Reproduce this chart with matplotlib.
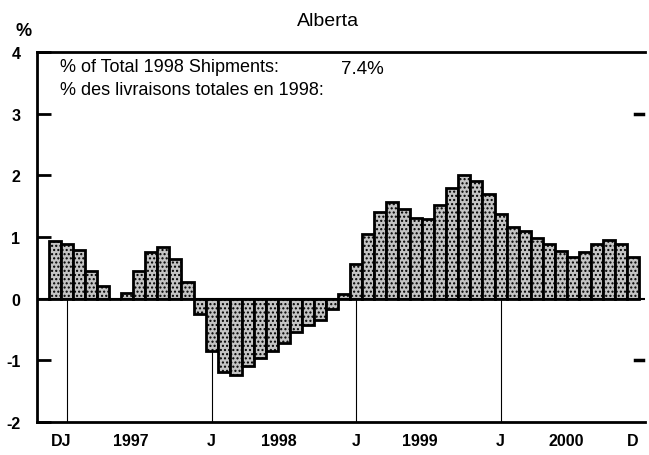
import matplotlib
matplotlib.use("Agg")
import matplotlib.pyplot as plt
import matplotlib.transforms as mtransforms

plt.rcParams["font.family"] = ["Liberation Sans", "DejaVu Sans"]

# monthly change, Dec 1996 .. Dec 2000
months = ["D96"] + [f"{m}{y}" for y in (97, 98, 99, 0) for m in "JFMAMJJASOND"]
values = [
    0.93,
    0.88, 0.79, 0.45, 0.21, 0.0, 0.09, 0.45, 0.75, 0.84, 0.64, 0.27, -0.25,
    -0.85, -1.19, -1.23, -1.09, -0.97, -0.85, -0.72, -0.54, -0.42, -0.34, -0.17, 0.08,
    0.57, 1.05, 1.40, 1.57, 1.45, 1.31, 1.30, 1.52, 1.80, 2.00, 1.91, 1.69,
    1.38, 1.17, 1.09, 0.98, 0.89, 0.78, 0.68, 0.75, 0.89, 0.95, 0.89, 0.67,
]
jan_idx = [1, 13, 25, 37]
xlabels = [("DJ", 0.5), ("1997", 6.3), ("J", 13), ("1998", 18.6), ("J", 25),
           ("1999", 30.3), ("J", 37), ("2000", 42.5), ("D", 48)]
yticks = [-2, -1, 0, 1, 2, 3, 4]

fig = plt.figure(figsize=(6.49, 4.56), dpi=100)
ax = fig.add_axes([37 / 649, 1 - 423 / 456, 608 / 649, 370 / 456])

x = list(range(len(values)))
for i in jan_idx:
    ax.plot([i, i], [-2, 0], color="black", lw=0.8, zorder=1)
ax.bar(x, values, width=1.0, color="#c4c4c4", edgecolor="black", linewidth=2.0,
       hatch="....", zorder=2)
ax.axhline(0, color="black", lw=1.5, zorder=3)

ax.set_xlim(-1.5, 49.0)
ax.set_ylim(-2, 4)
ax.set_yticks(yticks)
ax.set_yticklabels([str(v) for v in yticks], fontsize=11.5, fontweight="bold")
ax.tick_params(axis="y", direction="in", length=10, width=2, pad=12)
ax.set_xticks([])
for s in ("left", "top", "bottom"):
    ax.spines[s].set_linewidth(2)
ax.spines["right"].set_visible(False)

# right-side tick marks
for yv in (3, -1):
    ax.plot([48.2, 48.8], [yv, yv], color="black", lw=2.5, clip_on=False)

trans = mtransforms.blended_transform_factory(ax.transData, ax.transAxes)
for lab, pos in xlabels:
    ax.text(pos, -0.05, lab, transform=trans, ha="center", va="center",
            fontsize=11.5, fontweight="bold")

ax.text(0.479, 1.086, "Alberta", transform=ax.transAxes, ha="center", va="center",
        fontsize=14)
ax.text(-0.036, 1.058, "%", transform=ax.transAxes, ha="left", va="center",
        fontsize=13, fontweight="bold")
ax.text(0.038, 0.96, "% of Total 1998 Shipments:", transform=ax.transAxes,
        ha="left", va="center", fontsize=13)
ax.text(0.038, 0.90, "% des livraisons totales en 1998:", transform=ax.transAxes,
        ha="left", va="center", fontsize=13)
ax.text(0.5, 0.955, "7.4%", transform=ax.transAxes, ha="left", va="center",
        fontsize=13.5)

fig.savefig("out.png", dpi=100)
